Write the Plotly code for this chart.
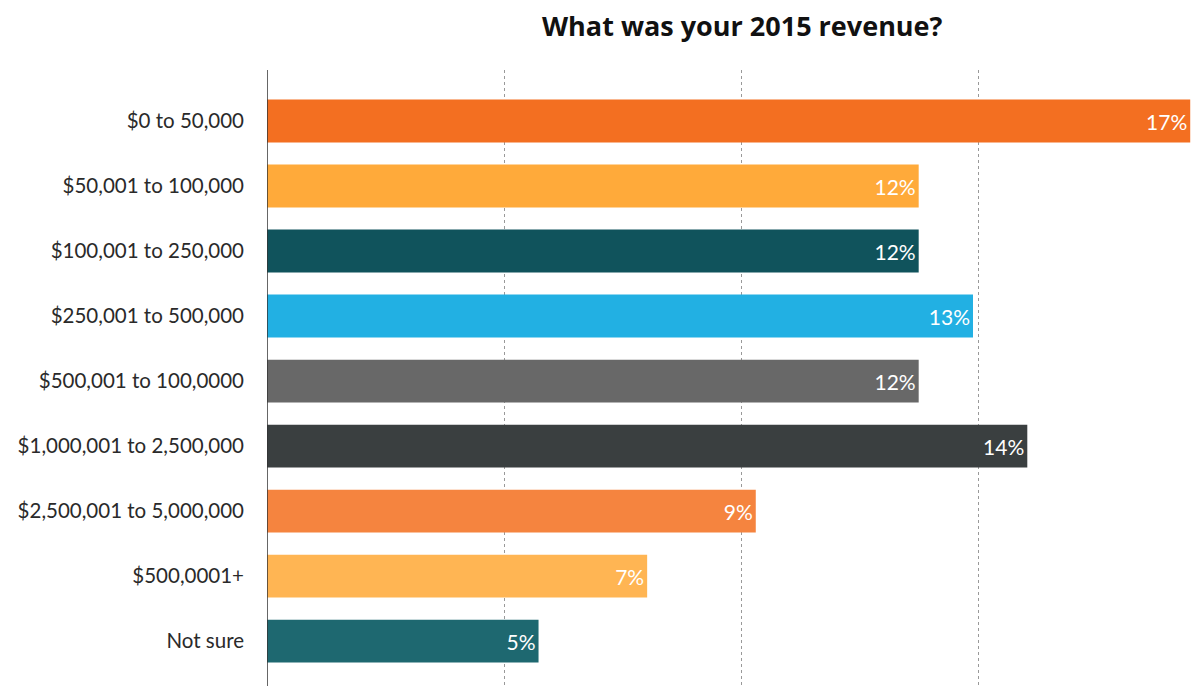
import plotly.graph_objects as go

# Survey answers: share of respondents by 2015 revenue band
categories = [
    "$0 to 50,000",
    "$50,001 to 100,000",
    "$100,001 to 250,000",
    "$250,001 to 500,000",
    "$500,001 to 100,0000",
    "$1,000,001 to 2,500,000",
    "$2,500,001 to 5,000,000",
    "$500,0001+",
    "Not sure",
]
values = [17, 12, 12, 13, 12, 14, 9, 7, 5]
bar_colors = [
    "#F36F21", "#FFAA3A", "#10535C", "#22B0E3", "#686868",
    "#3A3F40", "#F5843F", "#FFB553", "#1E6870",
]

x_max = 17.18
grid_step = 4.365

fig = go.Figure(
    go.Bar(
        y=categories,
        x=values,
        orientation="h",
        marker=dict(color=bar_colors, line=dict(width=0)),
        width=0.66,
        text=[f"{v}%" for v in values],
        textposition="inside",
        insidetextanchor="end",
        textfont=dict(family="Lato", size=21, color="white"),
        cliponaxis=False,
    )
)

fig.update_layout(
    width=1200,
    height=686,
    margin=dict(l=267, r=0, t=70, b=0),
    paper_bgcolor="white",
    plot_bgcolor="white",
    showlegend=False,
    uniformtext=dict(mode="show", minsize=8),
    xaxis=dict(
        range=[0, x_max],
        tickvals=[grid_step * i for i in range(1, 4)],
        showticklabels=False,
        showgrid=True,
        gridcolor="#999999",
        griddash="dot",
        gridwidth=1,
        zeroline=False,
        showline=False,
        fixedrange=True,
    ),
    yaxis=dict(
        categoryorder="array",
        categoryarray=categories,
        range=[8.69, -0.785],
        showgrid=False,
        zeroline=False,
        showline=False,
        ticks="",
        ticklabelstandoff=22,
        tickfont=dict(family="Lato", size=20.5, color="#2a2a2a"),
        fixedrange=True,
    ),
    shapes=[
        dict(
            type="line", xref="x", yref="paper",
            x0=0, x1=0, y0=0, y1=1,
            line=dict(color="#333333", width=1.5),
        )
    ],
    annotations=[
        dict(
            text="<b>What was your 2015 revenue?</b>",
            xref="paper", yref="paper",
            x=(742 - 267) / (1200 - 267), y=1,
            yshift=45,
            xanchor="center", yanchor="middle",
            showarrow=False,
            font=dict(family="Open Sans", size=27, color="#111111"),
        )
    ],
)

fig.write_html("out.html")
